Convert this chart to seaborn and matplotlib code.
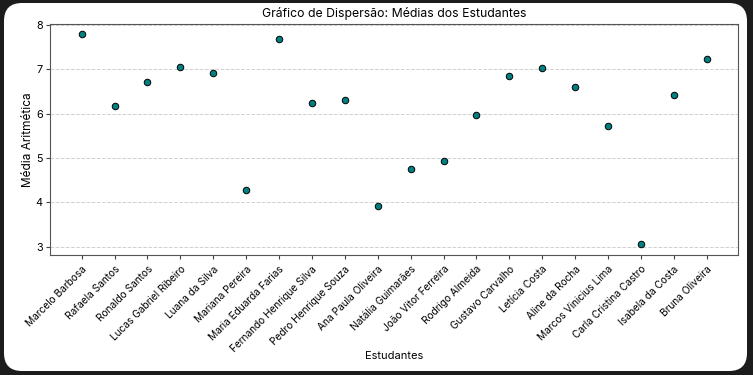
import numpy as np
import pandas as pd
import seaborn as sns
import matplotlib.pyplot as plt
from matplotlib.patches import FancyBboxPatch
from matplotlib.transforms import IdentityTransform

# student names and their averages
estudantes = [
    "Marcelo Barbosa", "Rafaela Santos", "Ronaldo Santos", "Lucas Gabriel Ribeiro",
    "Luana da Silva", "Mariana Pereira", "Maria Eduarda Farias", "Fernando Henrique Silva",
    "Pedro Henrique Souza", "Ana Paula Oliveira", "Natália Guimarães", "João Vitor Ferreira",
    "Rodrigo Almeida", "Gustavo Carvalho", "Letícia Costa", "Aline da Rocha",
    "Marcos Vinicius Lima", "Carla Cristina Castro", "Isabela da Costa", "Bruna Oliveira",
]
medias = [7.79, 6.18, 6.71, 7.05, 6.92, 4.28, 7.68, 6.24, 6.31, 3.92,
          4.74, 4.93, 5.97, 6.84, 7.02, 6.59, 5.71, 3.05, 6.42, 7.23]

df = pd.DataFrame({'Estudantes': estudantes, 'Media': medias})

plt.rcParams['font.family'] = ['Inter', 'DejaVu Sans']

fig, ax = plt.subplots(figsize=(7.53, 3.75), dpi=100)
fig.patch.set_facecolor('#1c1c1c')

# white rounded card behind the plot
card = FancyBboxPatch((4, 4), 743, 368, boxstyle='round,pad=0,rounding_size=18',
                      transform=IdentityTransform(), facecolor='white', edgecolor='none', zorder=-1)
fig.patches.append(card)

sns.scatterplot(data=df, x='Estudantes', y='Media', color='teal', edgecolor='black',
                s=22, linewidth=0.7, ax=ax, zorder=3)

ax.set_title('Gráfico de Dispersão: Médias dos Estudantes', fontsize=8.8, pad=5)
ax.set_xlabel('Estudantes', fontsize=8, labelpad=-2)
ax.set_ylabel('Média Aritmética', fontsize=8.5, labelpad=1)
ax.yaxis.grid(True, linestyle='--', color='#d0d0d0', linewidth=0.7)
ax.set_axisbelow(True)

plt.setp(ax.get_xticklabels(), rotation=45, ha='right', rotation_mode='anchor', fontsize=7.3)
ax.tick_params(axis='y', labelsize=7.8, pad=2.5)
ax.tick_params(length=3, color='#444444')
for s in ax.spines.values():
    s.set_color('#555555')

fig.subplots_adjust(left=0.067, right=0.980, top=0.937, bottom=0.32)
fig.savefig('out.png', dpi=100, facecolor=fig.get_facecolor())
